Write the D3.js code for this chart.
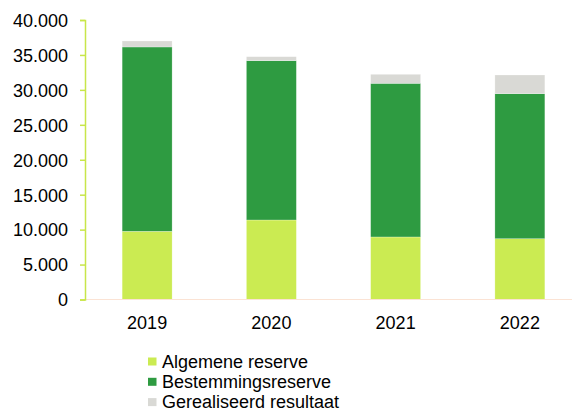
<!DOCTYPE html>
<html>
<head>
<meta charset="utf-8">
<script src="https://cdn.jsdelivr.net/npm/d3@7"></script>
<style>
  body { margin: 0; background: #fff; }
  text { font-family: "Liberation Sans", Arial, sans-serif; fill: #000; }
</style>
</head>
<body>
<div id="chart"></div>
<script>
var years = ["2019", "2020", "2021", "2022"];
var algemeneReserve = [9760, 11380, 8950, 8700];
var bestemmingsreserve = [26380, 22800, 21990, 20750];
var gerealiseerdResultaat = [860, 570, 1290, 2680];
var seriesNames = ["Algemene reserve", "Bestemmingsreserve", "Gerealiseerd resultaat"];
var yTicks = [0, 5000, 10000, 15000, 20000, 25000, 30000, 35000, 40000];

var w = 575, h = 410;
var colors = ["#cbeb52", "#2e9b41", "#d9d9d5"];

var rows = years.map(function(y, i){
    return {year: y, a: algemeneReserve[i], b: bestemmingsreserve[i], c: gerealiseerdResultaat[i]};
});

var stack = d3.stack().keys(["a", "b", "c"]);
var layers = stack(rows);

var x = d3.scaleBand().domain(years).range([85, 582]).paddingInner(0.598).paddingOuter(0.299);
var y = d3.scaleLinear().domain([0, 40000]).range([299.5, 20]);

var fmt = function(d){ return d3.format(",")(d).replace(/,/g, "."); };

var svg = d3.select("#chart").append("svg").attr("width", w).attr("height", h);

// bars
svg.selectAll(".layer")
    .data(layers)
    .enter().append("g")
    .attr("class", "layer")
    .attr("fill", function(d, i){ return colors[i]; })
    .selectAll("rect")
    .data(function(d){ return d; })
    .enter().append("rect")
    .attr("x", function(d){ return x(d.data.year); })
    .attr("width", x.bandwidth())
    .attr("y", function(d){ return y(d[1]); })
    .attr("height", function(d){ return y(d[0]) - y(d[1]); })
    .attr("stroke", "#ffffff")
    .attr("stroke-opacity", 0.4)
    .attr("stroke-width", 0.6);

// x axis line
svg.append("line")
    .attr("x1", 85).attr("x2", 572)
    .attr("y1", y(0)).attr("y2", y(0))
    .attr("stroke", "#fbe3d4").attr("stroke-width", 1);

// y axis
var yAxis = d3.axisLeft(y).tickValues(yTicks).tickSize(5).tickPadding(12).tickFormat(fmt);
var gy = svg.append("g").attr("transform", "translate(85,0)").call(yAxis);
gy.select(".domain").attr("stroke", "#c8e64a").attr("stroke-width", 1.5);
gy.selectAll(".tick line").attr("stroke", "#c8e64a").attr("stroke-width", 1.5);
gy.selectAll(".tick text").style("font-size", "18px").attr("fill", "#000").attr("dy", "0.35em");

// year labels
svg.selectAll(".year")
    .data(years)
    .enter().append("text")
    .attr("class", "year")
    .attr("x", function(d){ return x(d) + x.bandwidth() / 2; })
    .attr("y", 329)
    .style("text-anchor", "middle")
    .style("font-size", "18px")
    .text(function(d){ return d; });

// legend
var legend = svg.selectAll(".legend")
    .data(seriesNames)
    .enter().append("g")
    .attr("class", "legend")
    .attr("transform", function(d, i){ return "translate(148," + (367.5 + i * 20.3) + ")"; });

legend.append("rect")
    .attr("x", 0).attr("y", -10)
    .attr("width", 8.5).attr("height", 8)
    .attr("fill", function(d, i){ return colors[i]; });

legend.append("text")
    .attr("x", 14).attr("y", 0)
    .style("font-size", "18px")
    .text(function(d){ return d; });
</script>
</body>
</html>
